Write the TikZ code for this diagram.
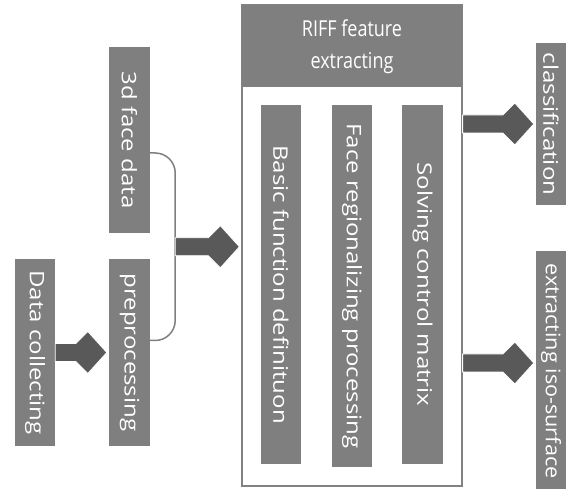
\documentclass[tikz,border=0pt]{standalone}
\usepackage{fontspec}
\setmainfont{Open Sans}
\usepackage{graphicx}
\usetikzlibrary{calc}

\definecolor{boxgray}{RGB}{127,127,127}
\definecolor{arrowgray}{RGB}{89,89,89}
\definecolor{framegray}{RGB}{130,130,130}

% text running downwards, stretched like the original
\newcommand{\vtext}[2][1.2]{\scalebox{1}[#1]{\rotatebox{-90}{#2}}}

% fat arrow: tail at #1, tip at the west side of #2
\newcommand{\fatarrow}[2]{%
  \filldraw[fatarrowstyle] ($(#2 |- #1)+(-2,0)$) -- ++(-19,-21) -- ++(-12,12) -- ($(#1)+(0,-9)$)
    -- ($(#1)+(0,9)$) -- ($(#2 |- #1)+(-33,9)$) -- ++(12,12) -- cycle;}

\begin{document}
\begin{tikzpicture}[x=1pt, y=-1pt, font=\fontsize{20}{28}\selectfont,
    vbox/.style={fill=boxgray, text=white, inner sep=0pt},
    fatarrowstyle/.style={fill=arrowgray, draw=white, line width=0.8pt},
    bracketline/.style={draw=boxgray, line width=1.5pt, rounded corners=20pt}]
    \useasboundingbox (0,0) rectangle (566,489);

    \node[vbox, minimum width=40pt, minimum height=187pt] (dc) at (35,352.5) {\vtext{Data collecting}};
    \node[vbox, minimum width=41pt, minimum height=186pt] (fd) at (129.5,140) {\vtext{3d face data}};
    \node[vbox, minimum width=41pt, minimum height=187pt] (pp) at (129.5,352.5) {\vtext{preprocessing}};

    \node[draw=framegray, line width=1.2pt, minimum width=220pt, minimum height=481pt] (riff) at (352,245.5) {};
    \node[vbox, minimum width=220pt, minimum height=82pt, font=\fontsize{18}{26}\selectfont] (head) at (352,46)
        {\scalebox{1}[1.22]{\begin{tabular}{@{}c@{}}RIFF feature\\extracting\end{tabular}}};
    \node[vbox, minimum width=40pt, minimum height=359pt] (bf) at (281,284.5) {\vtext{Basic function definituon}};
    \node[vbox, minimum width=40pt, minimum height=362pt] (fr) at (352,286) {\vtext{Face regionalizing processing}};
    \node[vbox, minimum width=41pt, minimum height=359pt] (sc) at (422.5,284.5) {\vtext{Solving control matrix}};

    \node[vbox, minimum width=30pt, minimum height=162pt] (cl) at (551,124) {\vtext{classification}};
    \node[vbox, minimum width=30pt, minimum height=240pt] (iso) at (551,371) {\vtext[1.08]{extracting iso-surface}};

    % bracket joining the two inputs
    \coordinate (bktop) at ($(fd.east)+(25,13)$);
    \coordinate (bkbot) at ($(pp.east)+(25,-12)$);
    \coordinate (bkmid) at ($(bktop)!.5!(bkbot)$);
    \draw[bracketline] ($(fd.east)+(0,13)$) -- (bktop) -- (bkbot) -- ($(pp.east)+(0,-12)$);

    \coordinate (out1) at (riff.east |- cl.west);
    \coordinate (out2) at ($(riff.east |- iso.west)+(0,-8)$);

    \fatarrow{dc.east}{pp.west}
    \fatarrow{bkmid}{riff.west}
    \fatarrow{out1}{cl.west}
    \fatarrow{out2}{iso.west}
\end{tikzpicture}
\end{document}
